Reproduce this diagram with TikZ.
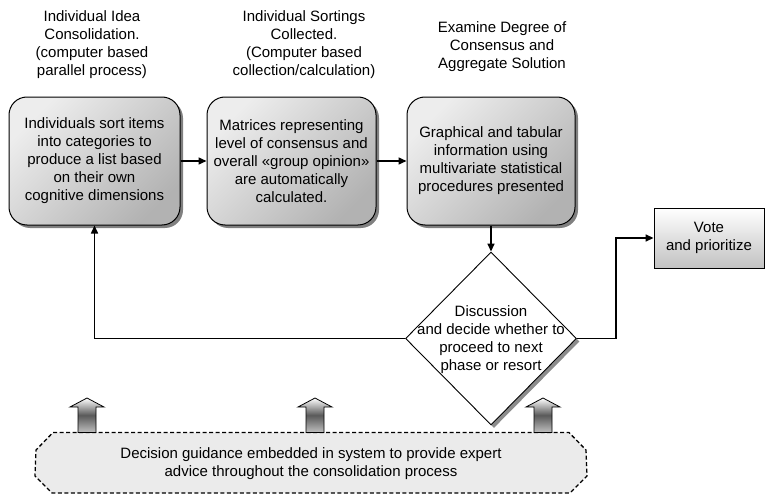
\documentclass[tikz,border=0pt]{standalone}
\usepackage{fontspec}
\setmainfont{Liberation Sans}
\usetikzlibrary{arrows.meta,shapes.geometric,shadows,calc}
\begin{document}
\begin{tikzpicture}[x=1pt,y=-1pt,
  every node/.style={font=\fontsize{15}{18}\selectfont, inner sep=0pt},
  procbox/.style={draw=black, line width=1pt, rounded corners=18pt,
    top color=black!7, bottom color=black!30, shading angle=45,
    minimum height=128pt, align=center,
    drop shadow={shadow xshift=3pt, shadow yshift=-3pt, fill=black!50, opacity=1}},
  titletext/.style={align=center},
  conn/.style={line width=1.5pt, -{Triangle[length=8pt,width=7pt]}},
  decbox/.style={diamond, draw=black, line width=0.9pt, fill=white,
    minimum width=171pt, minimum height=173pt,
    drop shadow={shadow xshift=3pt, shadow yshift=-3pt, fill=black!45, opacity=1}},
  votebox/.style={draw=black, line width=0.9pt, top color=white, bottom color=black!24,
    minimum width=110pt, minimum height=60pt, align=center},
  guideline/.style={draw=black, line width=1.3pt, dash pattern=on 4pt off 2.5pt, fill=black!8},
  blockarrow/.style={draw=black, line width=0.8pt, top color=white, bottom color=black!25, middle color=black!65}
]
\useasboundingbox (0,0) rectangle (766,495);

% titles
\node[titletext] (t1) at (92,44.5) {Individual Idea\\Consolidation.\\(computer based\\parallel process)};
\node[titletext] (t2) at (304,44.5) {Individual Sortings\\Collected.\\(Computer based\\collection/calculation)};
\node[titletext] (t3) at (502,47) {Examine Degree of\\Consensus and\\Aggregate Solution};

% process boxes
\node[procbox, minimum width=171pt] (box1) at (94.5,161)
  {Individuals sort items\\into categories to\\produce a list based\\on their own\\cognitive dimensions};
\node[procbox, minimum width=169pt] (box2) at (291.5,161)
  {Matrices representing\\level of consensus and\\overall «group opinion»\\are automatically\\calculated.};
\node[procbox, minimum width=168pt] (box3) at (491,161)
  {Graphical and tabular\\information using\\multivariate statistical\\procedures presented};

% decision
\node[decbox] (dia) at (491,338.5) {};
\node[align=center] (diatext) at (491,339.5)
  {Discussion\\and decide whether to\\proceed to next\\phase or resort};

% vote
\node[votebox] (vote) at (709,238) {Vote\\and prioritize};

% guidance box
\path[guideline] (53,432.5) -- (569,432.5) -- (586,450) -- (587,476) -- (570,493)
  -- (52,493) -- (35,476) -- (36,450) -- cycle;
\node[align=center] (guide) at (311,463.5)
  {Decision guidance embedded in system to provide expert\\advice throughout the consolidation process};

% block arrows
\foreach \cx in {87,315,543}{
  \path[blockarrow] (\cx-9,432.5) -- (\cx-9,407) -- (\cx-17,407) -- (\cx,398)
    -- (\cx+17,407) -- (\cx+9,407) -- (\cx+9,432.5) -- cycle;
}

% connectors
\draw[conn] (box1.east) -- (box2.west);
\draw[conn] (box2.east) -- (box3.west);
\draw[conn] (box3.south) -- (dia.north);
\draw[conn] (dia.west) -| (box1.south);
\draw[conn] (dia.east) -- ++(39,0) |- (vote.west);
\end{tikzpicture}
\end{document}
